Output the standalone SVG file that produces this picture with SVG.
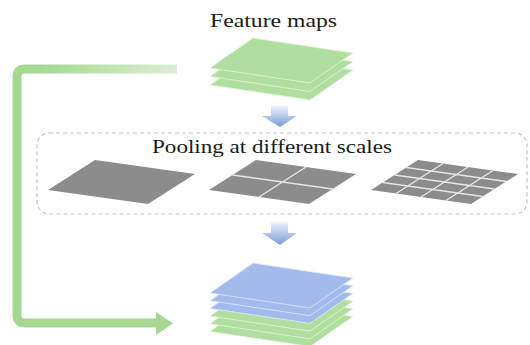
<svg xmlns="http://www.w3.org/2000/svg" width="530" height="345" viewBox="0 0 530 345">
  <defs>
    <linearGradient id="fade" gradientUnits="userSpaceOnUse" x1="40" y1="0" x2="177" y2="0">
      <stop offset="0" stop-color="#a6d892"/>
      <stop offset="1" stop-color="#dcefd4"/>
    </linearGradient>
    <linearGradient id="blueArrow" x1="0" y1="0" x2="0" y2="1">
      <stop offset="0" stop-color="#eef2fa"/>
      <stop offset="0.5" stop-color="#b3c7ea"/>
      <stop offset="1" stop-color="#7d9ed8"/>
    </linearGradient>
    <polygon id="layer" points="0,0 43,-30 143,-15 100,15"/>
    <polygon id="map" points="0,0 47,-30 147,-16 100,14"/>
  </defs>
  <style>
    .lbl { font-family: "Liberation Serif", "Times New Roman", serif; font-size: 19px; fill: #1a1a1a; }
    .green { fill: #b0de9e; stroke: #e4f4dc; stroke-width: 0.8; }
    .blue { fill: #a2bbec; stroke: #e2eafa; stroke-width: 0.8; }
    .gray { fill: #8c8c8c; }
    .grid { stroke: #e6e6e6; stroke-width: 1.4; fill: none; }
    .box { fill: none; stroke: #c4c4c4; stroke-width: 1.2; stroke-dasharray: 4 3; }
  </style>

  <rect width="530" height="345" fill="#ffffff"/>

  <g id="connectors">
    <path d="M40,69 H25 Q17,69 17,77 V315 Q17,323 25,323 H158" fill="none" stroke="#a6d892" stroke-width="9"/>
    <path d="M40,69 H177" fill="none" stroke="url(#fade)" stroke-width="9"/>
    <polygon points="156,312 173,323.5 156,335" fill="#a6d892"/>
    <polygon points="271,106 288,106 288,116 297,116 280,127 262,116 271,116" fill="url(#blueArrow)"/>
    <polygon points="271,222 288,222 288,233 297,233 280,245 262,233 271,233" fill="url(#blueArrow)"/>
  </g>

  <g id="feature-maps">
    <text class="lbl" x="273.5" y="27" text-anchor="middle" textLength="127" lengthAdjust="spacingAndGlyphs">Feature maps</text>
    <use href="#layer" class="green" x="210" y="85"/>
    <use href="#layer" class="green" x="210" y="76.5"/>
    <use href="#layer" class="green" x="210" y="68"/>
  </g>

  <g id="pooling">
    <rect class="box" x="37" y="133" width="490" height="81" rx="12"/>
    <text class="lbl" x="272" y="153" text-anchor="middle" textLength="240" lengthAdjust="spacingAndGlyphs">Pooling at different scales</text>
    <g id="pool-1x1">
      <use href="#map" class="gray" x="48" y="190"/>
    </g>
    <g id="pool-2x2">
      <use href="#map" class="gray" x="209" y="190"/>
      <path class="grid" d="M232.5,175 L332.5,189 M259,197 L306,167"/>
    </g>
    <g id="pool-4x4">
      <use href="#map" class="gray" x="371" y="190"/>
      <path class="grid" d="M382.75,182.5 L482.75,196.5 M394.5,175 L494.5,189 M406.25,167.5 L506.25,181.5 M396,193.5 L443,163.5 M421,197 L468,167 M446,200.5 L493,170.5"/>
    </g>
  </g>

  <g id="output-stack">
    <use href="#layer" class="green" x="210" y="331.5"/>
    <use href="#layer" class="green" x="210" y="323.8"/>
    <use href="#layer" class="green" x="210" y="316.1"/>
    <use href="#layer" class="blue" x="210" y="308.4"/>
    <use href="#layer" class="blue" x="210" y="300.7"/>
    <use href="#layer" class="blue" x="210" y="293"/>
  </g>
</svg>
